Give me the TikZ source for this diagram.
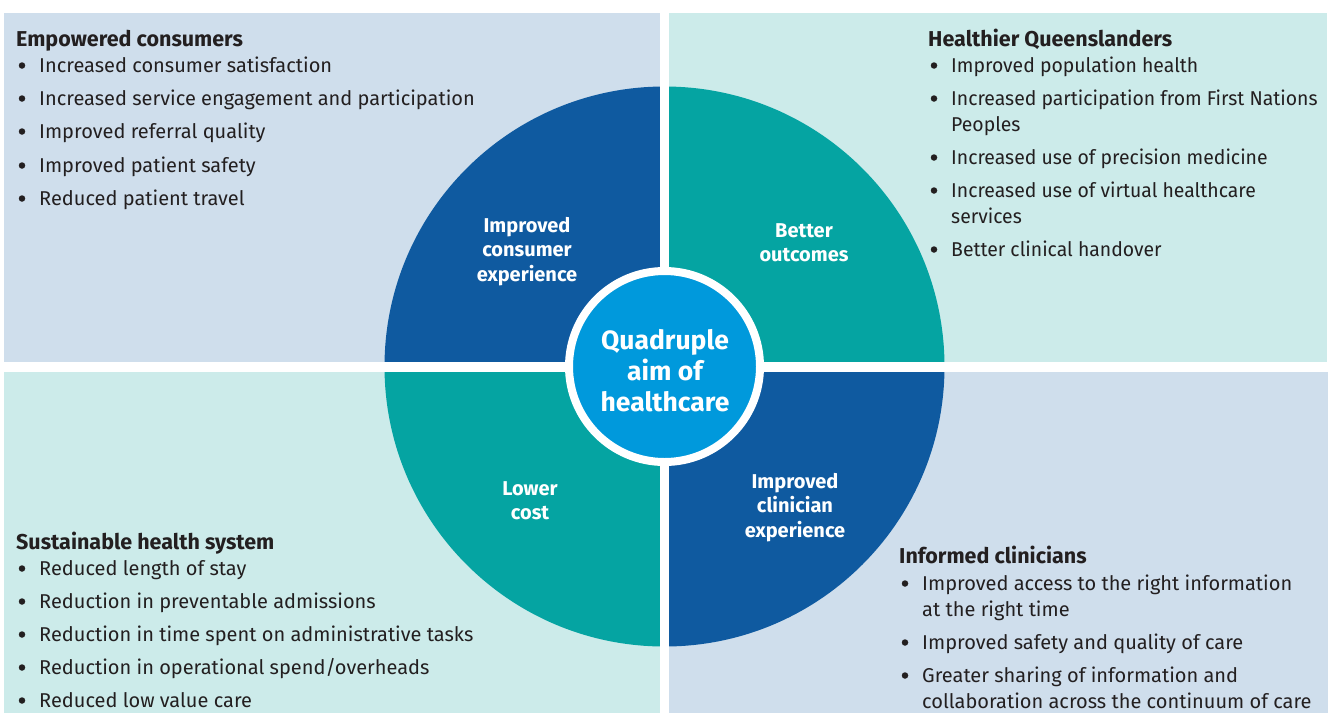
\documentclass[tikz,border=0pt]{standalone}
\usepackage{fontspec}
\setmainfont{Fira Sans}
\newfontfamily\narrowfont{Fira Sans}[FakeStretch=0.97]
\definecolor{panelblue}{HTML}{CFDEEC}
\definecolor{panelteal}{HTML}{CCEBEA}
\definecolor{darkblue}{HTML}{0F5AA0}
\definecolor{teal}{HTML}{05A4A2}
\definecolor{midblue}{HTML}{0099DC}
\definecolor{ink}{HTML}{231F20}
\tikzset{
  itm/.style={anchor=base west, inner sep=0pt, text=ink, font=\fontsize{20}{26}\selectfont},
  nitm/.style={itm, font=\fontsize{20}{26}\selectfont\narrowfont},
  bul/.style={circle, fill=ink, minimum size=6.5pt, inner sep=0pt},
  head/.style={anchor=base west, inner sep=0pt, text=ink, font=\fontsize{21.5}{26}\selectfont\bfseries},
  qlabel/.style={anchor=base, inner sep=0pt, text=white, font=\fontsize{20}{24.5}\selectfont\bfseries},
  centre/.style={circle, fill=midblue, draw=white, line width=8pt, minimum size=191pt, inner sep=0pt},
  clabel/.style={anchor=base, inner sep=0pt, text=white, font=\fontsize{26.5}{31}\selectfont\bfseries}
}
\newcommand\bitem[4]{%
  \node[bul] (#1b) at (#2-17,#3-6.5) {};
  \node[itm] (#1) at (#2,#3) {#4};}
\newcommand\nitem[4]{%
  \node[bul] (#1b) at (#2-17,#3-6.5) {};
  \node[nitm] (#1) at (#2,#3) {#4};}
\newcommand\twoline[2]{\parbox[t]{420pt}{\raggedright #1\\#2}}
\newcommand\cen[1]{\parbox[t]{220pt}{\centering #1}}
\begin{document}
\begin{tikzpicture}[x=1pt,y=-1pt]
\useasboundingbox (0,0) rectangle (1333,713);
\fill[white] (0,0) rectangle (1333,713);
% panels
\fill[panelblue] (4,13) rectangle (660,362);
\fill[panelteal] (669,13) rectangle (1327,362);
\fill[panelteal] (4,372) rectangle (660,713);
\fill[panelblue] (669,371) rectangle (1328,713);
% quadrants
\coordinate (c) at (664.5,366.5);
\fill[darkblue] (c) -- ++(-280,0) arc[start angle=180, end angle=270, radius=280] -- cycle;
\fill[teal] (c) -- ++(0,-280) arc[start angle=270, end angle=360, radius=280] -- cycle;
\fill[darkblue] (c) -- ++(280,0) arc[start angle=0, end angle=90, radius=280] -- cycle;
\fill[teal] (c) -- ++(0,280) arc[start angle=90, end angle=180, radius=280] -- cycle;
% white gaps
\fill[white] (660,0) rectangle (669,713);
\fill[white] (0,362) rectangle (1333,371.5);
% centre
\node[centre] (hub) at (c) {};
\node[clabel] (hubtxt) at (665,349) {\cen{Quadruple\\aim of\\healthcare}};
% quadrant labels
\node[qlabel] (q1) at (527,232) {\cen{Improved\\consumer\\experience}};
\node[qlabel] (q2) at (804,237) {\cen{Better\\outcomes}};
\node[qlabel] (q3) at (530,495) {\cen{Lower\\cost}};
\node[qlabel] (q4) at (795,488) {\cen{Improved\\clinician\\experience}};
% top-left
\node[head] (h1) at (16,46) {Empowered consumers};
\bitem{a1}{39}{72}{Increased consumer satisfaction}
\bitem{a2}{39}{105}{Increased service engagement and participation}
\bitem{a3}{39}{138}{Improved referral quality}
\bitem{a4}{39}{172}{Improved patient safety}
\bitem{a5}{39}{205}{Reduced patient travel}
% top-right
\node[head] (h2) at (928,46) {Healthier Queenslanders};
\nitem{b1}{951}{72}{Improved population health}
\nitem{b2}{951}{105}{\twoline{Increased participation from First Nations}{Peoples}}
\nitem{b3}{951}{164}{Increased use of precision medicine}
\nitem{b4}{951}{197}{\twoline{Increased use of virtual healthcare}{services}}
\nitem{b5}{951}{256}{Better clinical handover}
% bottom-left
\node[head] (h3) at (16,549) {Sustainable health system};
\bitem{c1}{39}{575}{Reduced length of stay}
\bitem{c2}{39}{608}{Reduction in preventable admissions}
\bitem{c3}{39}{641}{Reduction in time spent on administrative tasks}
\bitem{c4}{39}{674}{Reduction in operational spend/overheads}
\bitem{c5}{39}{707}{Reduced low value care}
% bottom-right
\node[head] (h4) at (899,563) {Informed clinicians};
\bitem{d1}{922}{590}{\twoline{Improved access to the right information}{at the right time}}
\bitem{d2}{922}{649}{Improved safety and quality of care}
\bitem{d3}{922}{682}{\twoline{Greater sharing of information and}{collaboration across the continuum of care}}
\end{tikzpicture}
\end{document}
